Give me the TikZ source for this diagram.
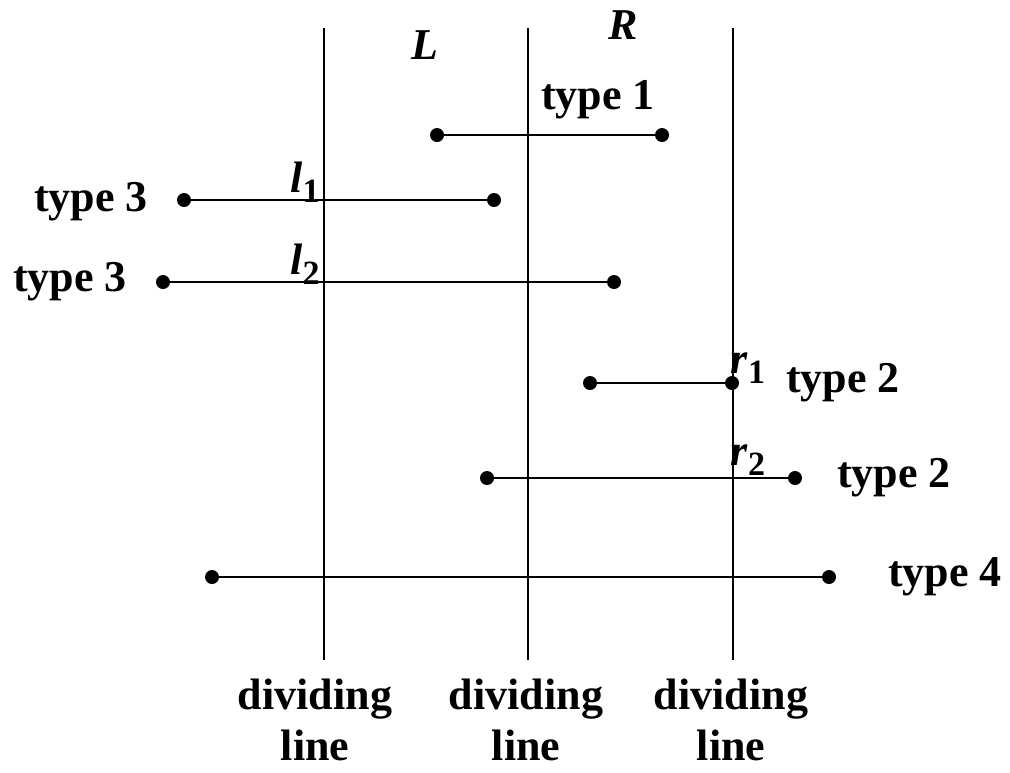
\documentclass[tikz,border=0pt]{standalone}
\usepackage{fontspec}
\setmainfont{Liberation Serif}
\usetikzlibrary{positioning}

\begin{document}
\begin{tikzpicture}[x=0.5pt, y=-0.5pt,
  dot/.style={circle, fill=black, inner sep=0pt, minimum size=7pt},
  seg/.style={line width=1pt},
  lbl/.style={font=\fontsize{22}{25.5}\selectfont\bfseries, inner sep=0pt},
  sub/.style={font=\fontsize{22}{22}\selectfont\bfseries, inner sep=0pt}]
  \useasboundingbox (0,0) rectangle (1010,772);
  % dividing lines
  \foreach \n/\x in {a/324, b/528, c/733} {
    \coordinate (\n top) at (\x,28);
    \coordinate (\n bot) at (\x,660);
    \draw[seg] (\n top) -- (\n bot);
  }
  \foreach \n/\x in {a/315, b/526, c/731}
    \node[lbl, align=center] (\n txt) at (\x,720) {dividing\\line};
  \node[lbl] (L) at (425,45) {\textit{L}};
  \node[lbl] (R) at (623,25) {\textit{R}};
  % type 1
  \node[dot] (p1) at (437,135) {};
  \node[dot] (q1) at (662,135) {};
  \draw[seg] (p1) -- (q1);
  \node[lbl] (t1) at (598,100) {type 1};
  % type 3
  \node[dot] (p2) at (184,200) {};
  \node[dot] (q2) at (494,200) {};
  \draw[seg] (p2) -- (q2);
  \node[lbl] (t2) at (91,202) {type 3};
  \node[sub] (l1) at (305,182) {\textit{l}\raisebox{-0.5ex}{\fontsize{17}{17}\selectfont 1}};
  \node[dot] (p3) at (163,282) {};
  \node[dot] (q3) at (614,282) {};
  \draw[seg] (p3) -- (q3);
  \node[lbl] (t3) at (70,282) {type 3};
  \node[sub] (l2) at (305,264) {\textit{l}\raisebox{-0.5ex}{\fontsize{17}{17}\selectfont 2}};
  % type 2
  \node[dot] (p4) at (590,383) {};
  \node[dot] (q4) at (732,383) {};
  \draw[seg] (p4) -- (q4);
  \node[lbl] (t4) at (843,383) {type 2};
  \node[sub] (r1) at (748,368) {\textit{r}\raisebox{-0.5ex}{\fontsize{17}{17}\selectfont 1}};
  \node[dot] (p5) at (487,478) {};
  \node[dot] (q5) at (795,478) {};
  \draw[seg] (p5) -- (q5);
  \node[lbl] (t5) at (894,478) {type 2};
  \node[sub] (r2) at (748,460) {\textit{r}\raisebox{-0.5ex}{\fontsize{17}{17}\selectfont 2}};
  % type 4
  \node[dot] (p6) at (212,577) {};
  \node[dot] (q6) at (829,577) {};
  \draw[seg] (p6) -- (q6);
  \node[lbl] (t6) at (945,577) {type 4};
\end{tikzpicture}
\end{document}
